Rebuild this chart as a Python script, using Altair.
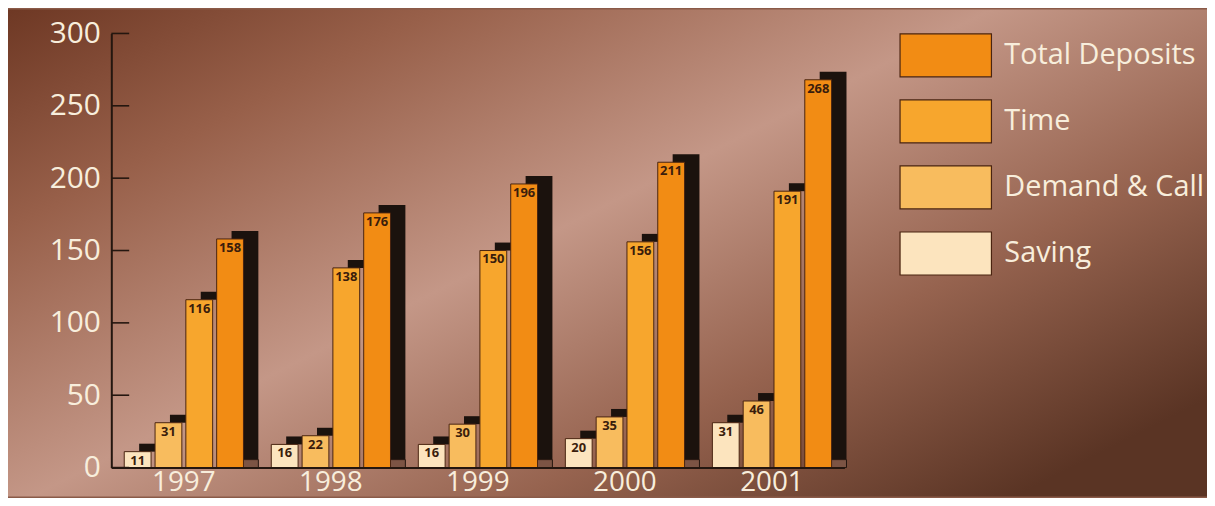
import altair as alt
import pandas as pd

years = ["1997", "1998", "1999", "2000", "2001"]
series = ["Saving", "Demand & Call", "Time", "Total Deposits"]
saving = [11, 16, 16, 20, 31]
demand = [31, 22, 30, 35, 46]
time_dep = [116, 138, 150, 156, 191]
total = [158, 176, 196, 211, 268]
y_ticks = [0, 50, 100, 150, 200, 250, 300]
legend_order = ["Total Deposits", "Time", "Demand & Call", "Saving"]
legend_colors = ["#F28C14", "#F7A62D", "#F8BC5E", "#FCE4BE"]

rows = []
for i, yr in enumerate(years):
    for s, vals in zip(series, [saving, demand, time_dep, total]):
        rows.append({"year": yr, "series": s, "value": vals[i]})
df = pd.DataFrame(rows)
df["shadow_top"] = df["value"] + 5.5
df["lift"] = 5.5
df["shadow_bottom"] = df["value"].where(df["series"] != "Total Deposits", 5.5)
df["zero"] = 0

W, H = 738, 437
PAD = {"left": 104, "top": 24, "right": 365, "bottom": 29}
LABEL = "#F8EEDC"
DARK = "#24160f"
FONT = "Open Sans"
BAND = 120
SHIFT = 15

yscale = alt.Scale(domain=[0, 300], nice=False)
y_axis = alt.Axis(values=y_ticks, title=None, ticks=False, grid=False,
                  labelFontSize=30, labelColor=LABEL, labelFont=FONT,
                  labelPadding=11, domainColor=DARK, domainWidth=2, zindex=1)
x_enc = alt.X("year:N", sort=years,
              scale=alt.Scale(paddingInner=0.19, paddingOuter=0.088),
              axis=alt.Axis(title=None, labelFontSize=28, labelColor=LABEL, labelFont=FONT,
                            ticks=False, domainColor=DARK, domainWidth=2, labelAngle=0,
                            labelPadding=1, zindex=1))


def xo(shift):
    return alt.XOffset("series:N", sort=series,
                       scale=alt.Scale(type="band", domain=series, range=[shift, BAND + shift],
                                       paddingInner=0.13, paddingOuter=0))


bg = alt.Chart(pd.DataFrame({"k": [0]})).mark_rect(
    fill=alt.Gradient(gradient="linear", x1=0, y1=0, x2=1, y2=0.8,
                      stops=[alt.GradientStop(offset=0, color="#6e3824"),
                             alt.GradientStop(offset=0.22, color="#98604a"),
                             alt.GradientStop(offset=0.5, color="#c49787"),
                             alt.GradientStop(offset=0.75, color="#96634f"),
                             alt.GradientStop(offset=1, color="#5a3424")])
).encode(x=alt.value(-PAD["left"]), x2=alt.value(W + PAD["right"]),
         y=alt.value(-PAD["top"]), y2=alt.value(H + PAD["bottom"]))

shadow = alt.Chart(df).mark_bar(color="#1b120d").encode(
    x=x_enc, xOffset=xo(SHIFT),
    y=alt.Y("shadow_top:Q", scale=yscale, axis=y_axis), y2="shadow_bottom:Q")

foot = alt.Chart(df).transform_filter(alt.datum.series == "Total Deposits").mark_bar(
    fill="#7c5444", stroke=DARK, strokeWidth=1).encode(
    x=x_enc, xOffset=xo(SHIFT),
    y=alt.Y("lift:Q", scale=yscale, axis=y_axis), y2="zero:Q")

bars = alt.Chart(df).mark_bar(stroke="#4a2410", strokeWidth=1).encode(
    x=x_enc, xOffset=xo(0),
    y=alt.Y("value:Q", scale=yscale, axis=y_axis),
    color=alt.Color("series:N", scale=alt.Scale(domain=legend_order, range=legend_colors),
                    legend=alt.Legend(title=None)))

labels = alt.Chart(df).mark_text(baseline="top", dy=3, fontSize=13, fontWeight="bold",
                                 color="#3a1d0c", font=FONT).encode(
    x=x_enc, xOffset=xo(0), y=alt.Y("value:Q", scale=yscale, axis=y_axis), text="value:Q")

ticks = alt.Chart(pd.DataFrame({"value": y_ticks})).mark_rule(color=DARK, strokeWidth=1.6).encode(
    y=alt.Y("value:Q", scale=yscale, axis=y_axis), x=alt.value(0), x2=alt.value(18))

chart = alt.layer(bg, shadow, foot, bars, labels, ticks).resolve_scale(
    xOffset="independent"
).properties(
    width=W, height=H, padding=PAD, autosize=alt.AutoSizeParams(type="none"),
    background="#8a5a48"
).configure_view(stroke=None).configure_legend(
    orient="none", legendX=816, legendY=-2, padding=0, zindex=1,
    symbolType="M-2,-0.94H2V0.94H-2Z", symbolSize=2116, symbolStrokeColor="#4a2410",
    symbolStrokeWidth=1.2, symbolOpacity=1, labelFontSize=29, labelColor=LABEL,
    labelFont=FONT, labelOffset=35, rowPadding=16.5, labelLimit=400
)

chart.save("out.html", embed_options={"renderer": "svg", "actions": False})
